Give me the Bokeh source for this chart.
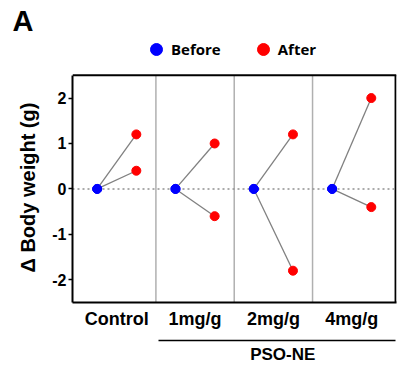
from bokeh.plotting import figure
from bokeh.models import (FixedTicker, Span, LinearAxis, Legend, LegendItem, Range1d)
from bokeh.embed import file_html
from bokeh.resources import INLINE

# ---- data ----
groups = ["Control", "1mg/g", "2mg/g", "4mg/g"]
before_vals = [[0.0, 0.0], [0.0, 0.0], [0.0, 0.0], [0.0, 0.0]]
after_vals = [[1.2, 0.4], [1.0, -0.6], [1.2, -1.8], [2.0, -0.4]]
y_ticks = [-2, -1, 0, 1, 2]
y_tick_labels = ["-2", "-1", "0", "1", "2"]
y_title = "\u0394 Body weight (g)"
bracket_label = "PSO-NE"
series_names = ["Before", "After"]
panel_letter = "A"

FONT = "Liberation Sans"
BEFORE_OFF, AFTER_OFF = -0.25, 0.25
Y0, Y1 = -2.5, 2.5          # data box
X0, X1 = -0.565, 3.56
HEADER = 0.855              # room above the box for the legend

bx, by, ax, ay, lx, ly = [], [], [], [], [], []
for gi, (bv, av) in enumerate(zip(before_vals, after_vals)):
    for b, a in zip(bv, av):
        bx.append(gi + BEFORE_OFF); by.append(b)
        ax.append(gi + AFTER_OFF); ay.append(a)
        lx.append([gi + BEFORE_OFF, gi + AFTER_OFF]); ly.append([b, a])

p = figure(width=397, height=366, output_backend="svg", toolbar_location=None,
           x_range=Range1d(X0, X1 + 0.012), y_range=Range1d(Y0, Y1 + HEADER),
           min_border_left=72, min_border_right=1, min_border_top=36,
           min_border_bottom=63, title=panel_letter)
p.background_fill_color = "white"
p.border_fill_color = "white"
p.outline_line_color = None
p.xgrid.visible = False
p.ygrid.visible = False

p.title.text_font = FONT
p.title.text_font_style = "bold"
p.title.text_font_size = "29px"
p.title.text_color = "black"
p.title.align = "left"
p.title.offset = -60
p.title.standoff = 0

# box: top and right borders, panel dividers, zero line
p.add_layout(Span(location=Y1, dimension="width", line_color="black", line_width=2))
p.segment(x0=[X1], y0=[Y0], x1=[X1], y1=[Y1], line_color="black", line_width=2)
divs = [gi + 0.5 for gi in range(len(groups) - 1)]
p.segment(x0=divs, y0=[Y0] * len(divs), x1=divs, y1=[Y1] * len(divs),
          line_color="#b0b0b0", line_width=1.5)
p.segment(x0=[X0], y0=[0], x1=[X1], y1=[0], line_color="#909090",
          line_width=1.5, line_dash="2 3")

p.multi_line(xs=lx, ys=ly, line_color="#808080", line_width=1.3)
rb = p.scatter(bx, by, size=9, fill_color="#0000ff", line_color="#0000ff")
ra = p.scatter(ax, ay, size=9, fill_color="#ff0000", line_color="#ff0000")

# y axis (numbers)
yax = p.yaxis[0]
yax.bounds = (Y0, Y1)
yax.ticker = FixedTicker(ticks=y_ticks)
yax.major_label_overrides = dict(zip(y_ticks, y_tick_labels))
yax.minor_tick_line_color = None
yax.major_tick_out = 4
yax.major_tick_in = 0
yax.major_tick_line_width = 1.5
yax.axis_line_width = 2
yax.major_label_standoff = 2
yax.major_label_text_font = FONT
yax.major_label_text_font_style = "bold"
yax.major_label_text_font_size = "16px"
yax.major_label_text_color = "black"

# y title, as a rotated label centred on the box
ytl = LinearAxis(ticker=FixedTicker(ticks=[0.03]),
                 major_label_overrides={0.03: y_title})
ytl.axis_line_color = None
ytl.major_tick_line_color = None
ytl.minor_tick_line_color = None
ytl.major_label_orientation = "vertical"
ytl.major_label_standoff = 4
ytl.major_label_text_font = FONT
ytl.major_label_text_font_style = "bold"
ytl.major_label_text_font_size = "20px"
ytl.major_label_text_color = "black"
p.add_layout(ytl, "left")

# x axis with category labels
xax = p.xaxis[0]
xax.ticker = FixedTicker(ticks=list(range(len(groups))))
xax.major_label_overrides = {i: g for i, g in enumerate(groups)}
xax.minor_tick_line_color = None
xax.major_tick_out = 0
xax.major_tick_in = 0
xax.axis_line_width = 2
xax.major_label_standoff = 6
xax.major_label_text_font = FONT
xax.major_label_text_font_style = "bold"
xax.major_label_text_font_size = "18px"
xax.major_label_text_color = "black"
xax.axis_label = " "
xax.axis_label_text_font_size = "5px"
xax.axis_label_standoff = 0

# bracket axis under the treated groups
bax = LinearAxis(bounds=(0.53, X1), ticker=FixedTicker(ticks=[2.12]),
                 major_label_overrides={2.12: bracket_label})
bax.minor_tick_line_color = None
bax.major_tick_out = 0
bax.major_tick_in = 0
bax.axis_line_width = 1.5
bax.major_label_standoff = 4
bax.major_label_text_font = FONT
bax.major_label_text_font_style = "bold"
bax.major_label_text_font_size = "17px"
bax.major_label_text_color = "black"
p.add_layout(bax, "below")

# legend above the box
legend = Legend(items=[LegendItem(label=series_names[0], renderers=[rb]),
                       LegendItem(label=series_names[1], renderers=[ra])],
                location=(69, 238), orientation="horizontal",
                glyph_width=30, glyph_height=30, label_standoff=0,
                label_width=48, spacing=27, padding=0, margin=0,
                border_line_color=None, background_fill_alpha=0,
                label_text_font="Open Sans", label_text_font_style="bold",
                label_text_font_size="15px", label_text_color="black")
p.add_layout(legend)

open("out.html", "w").write(file_html(p, INLINE))
